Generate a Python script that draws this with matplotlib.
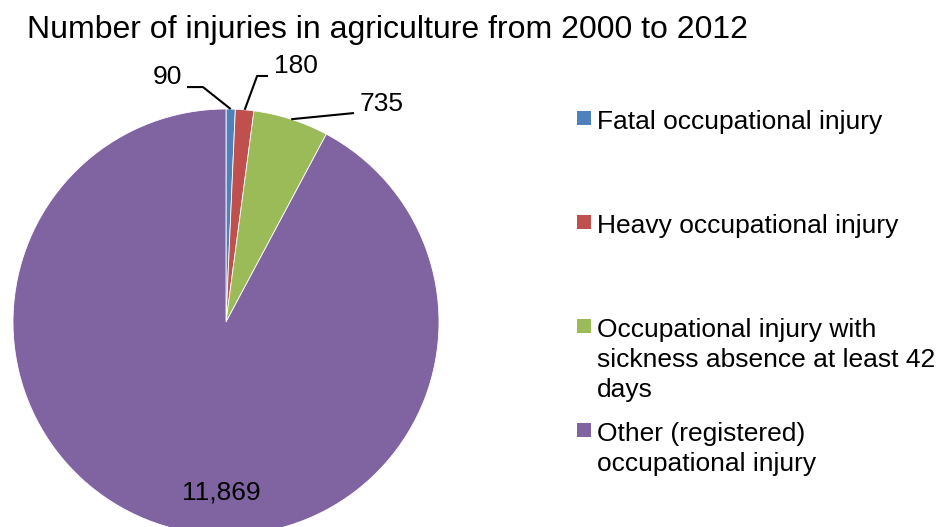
import matplotlib.pyplot as plt
import numpy as np

plt.rcParams['font.family'] = ['Liberation Sans', 'DejaVu Sans']

categories = ['Fatal occupational injury',
              'Heavy occupational injury',
              'Occupational injury with\nsickness absence at least 42\ndays',
              'Other (registered)\noccupational injury']
injuries = [90, 180, 735, 11869]
colors = ['#4F81BD', '#C0504D', '#9BBB59', '#8064A2']

W, H = 939, 527
fig = plt.figure(figsize=(W / 100, H / 100), dpi=100)

# pie axes: centre (226, 322) px, radius 213 px
cx, cy, r = 226, 322, 213
ax = fig.add_axes([(cx - r) / W, 1 - (cy + r) / H, 2 * r / W, 2 * r / H])
wedges, _ = ax.pie(injuries, colors=colors, startangle=90, counterclock=False,
                   radius=1, wedgeprops=dict(edgecolor='white', linewidth=0.6))
ax.set_xlim(-1, 1)
ax.set_ylim(-1, 1)
ax.set_aspect('equal')
ax.axis('off')

# label layout (data units, radius = 1): text position, elbow point
label_pos = [(-0.275, 1.15), (0.33, 1.20), (0.73, 1.025), (-0.02, -0.80)]
elbows = [(-0.108, 1.103), (0.146, 1.155), None, None]
line_ends = [(-0.183, 1.103), (0.197, 1.155), (0.601, 0.981), None]

for w, val, pos, elb, end in zip(wedges, injuries, label_pos, elbows, line_ends):
    ax.text(pos[0], pos[1], f'{val:,}', ha='center', va='center', fontsize=19,
            clip_on=False)
    if end is None:
        continue
    mid = np.deg2rad((w.theta1 + w.theta2) / 2)
    pts = [(np.cos(mid), np.sin(mid))]
    if elb is not None:
        pts.append(elb)
    pts.append(end)
    xs, ys = zip(*pts)
    ax.plot(xs, ys, color='black', lw=1.5, clip_on=False, solid_capstyle='butt')

fig.text(27 / W, 1 - 30 / H, 'Number of injuries in agriculture from 2000 to 2012',
         fontsize=23, va='center', ha='left')

# legend entries in evenly sized slots
slot_top = 111
slot_h = 104
for i, (lab, col) in enumerate(zip(categories, colors)):
    top = slot_top + i * slot_h
    fig.patches.append(plt.Rectangle((577 / W, 1 - (top + 14) / H), 14 / W, 14 / H,
                                     transform=fig.transFigure, facecolor=col,
                                     edgecolor='none'))
    fig.text(597 / W, 1 - (top - 1) / H, lab, fontsize=19, va='top', ha='left',
             linespacing=1.32)

fig.savefig('out.png', dpi=100)
